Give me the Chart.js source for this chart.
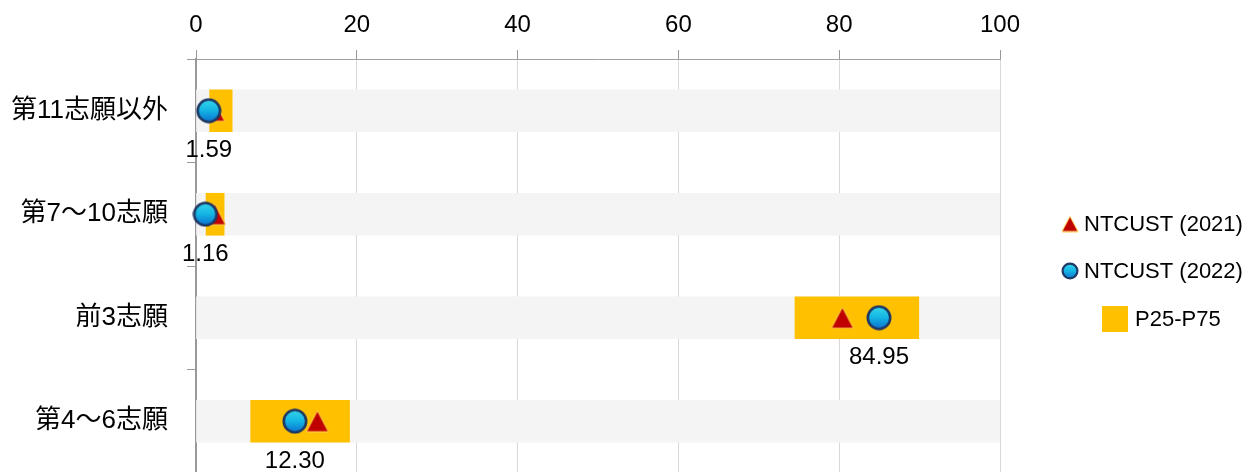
<!DOCTYPE html>
<html><head><meta charset="utf-8">
<script src="https://cdn.jsdelivr.net/npm/chart.js@4.4.0/dist/chart.umd.min.js"></script>
<style>
html,body{margin:0;padding:0;background:#fff;overflow:hidden}
#wrap{width:1249px;height:486px;position:relative}
</style>
</head><body><div id="wrap"><canvas id="c"></canvas></div>
<script>
// ---- data ----
const categories = ['第11志願以外', '第7～10志願', '前3志願', '第4～6志願'];
const xTicks = [0, 20, 40, 60, 80, 100];
const p25 = [1.7, 1.25, 74.5, 6.8];
const p75 = [4.5, 3.5, 89.9, 19.1];
const ntcust2021 = [2.2, 2.3, 80.4, 15.1];
const ntcust2022 = [1.59, 1.16, 84.95, 12.30];
const bandRange = [0, 100];
const seriesLabels = ['NTCUST (2021)', 'NTCUST (2022)', 'P25-P75'];

// ---- marker images ----
function makeCircle(d, lw) {
  const c = document.createElement('canvas'); c.width = d; c.height = d;
  const x = c.getContext('2d'); const r = d / 2 - lw / 2 - 0.5;
  const g = x.createLinearGradient(0, 0, 0, d);
  g.addColorStop(0, '#3ADCEC'); g.addColorStop(0.5, '#14B4E4'); g.addColorStop(1, '#0A66CC');
  x.beginPath(); x.arc(d / 2, d / 2, r, 0, Math.PI * 2);
  x.fillStyle = g; x.fill(); x.lineWidth = lw; x.strokeStyle = '#1F3864'; x.stroke();
  return c;
}
function makeTri(w, h) {
  const c = document.createElement('canvas'); c.width = w + 2; c.height = h + 2;
  const x = c.getContext('2d');
  x.beginPath(); x.moveTo(1 + w / 2, 1); x.lineTo(1 + w, 1 + h); x.lineTo(1, 1 + h); x.closePath();
  x.fillStyle = '#C00000'; x.fill(); x.strokeStyle = '#FFD050'; x.lineWidth = 1; x.stroke();
  return c;
}
const circleImg = makeCircle(26, 2.6);
const triImg = makeTri(22, 21);
const circleLeg = makeCircle(18, 2.2);
const triLeg = makeTri(16, 15);

const latin = '"Liberation Sans", "Noto Sans CJK TC", sans-serif';

const valueLabels = {
  id: 'valueLabels',
  afterDatasetsDraw(chart) {
    const meta = chart.getDatasetMeta(0);
    const ctx = chart.ctx;
    ctx.save();
    ctx.font = '24px ' + latin;
    ctx.fillStyle = '#000';
    ctx.textAlign = 'center';
    ctx.textBaseline = 'middle';
    meta.data.forEach((pt, i) => {
      ctx.fillText(ntcust2022[i].toFixed(2), pt.x, pt.y + 40);
    });
    ctx.restore();
  }
};

const customLegend = {
  id: 'customLegend',
  afterDraw(chart) {
    const ctx = chart.ctx;
    ctx.save();
    ctx.font = '22px ' + latin;
    ctx.fillStyle = '#000';
    ctx.textBaseline = 'middle';
    ctx.textAlign = 'left';
    ctx.drawImage(triLeg, 1070 - triLeg.width / 2, 224 - triLeg.height / 2);
    ctx.fillText(seriesLabels[0], 1084, 225);
    ctx.drawImage(circleLeg, 1070 - circleLeg.width / 2, 271 - circleLeg.height / 2);
    ctx.fillText(seriesLabels[1], 1084, 272);
    ctx.fillStyle = '#FFC000';
    ctx.fillRect(1102, 306, 26, 26);
    ctx.fillStyle = '#000';
    ctx.fillText(seriesLabels[2], 1135, 320);
    ctx.restore();
  }
};

new Chart(document.getElementById('c'), {
  data: {
    labels: categories,
    datasets: [
      { type: 'line', label: seriesLabels[1], data: ntcust2022, indexAxis: 'y', showLine: false,
        pointStyle: circleImg, pointRadius: 12, pointHoverRadius: 12, clip: false, order: 0 },
      { type: 'line', label: seriesLabels[0], data: ntcust2021, indexAxis: 'y', showLine: false,
        pointStyle: triImg, pointRadius: 12, pointHoverRadius: 12, clip: false, order: 1 },
      { type: 'bar', label: seriesLabels[2], data: categories.map((_, i) => [p25[i], p75[i]]), indexAxis: 'y',
        backgroundColor: '#FFC000', barThickness: 42, grouped: false, order: 2 },
      { type: 'bar', label: 'band', data: categories.map(() => bandRange.slice()), indexAxis: 'y',
        backgroundColor: '#F4F4F4', barThickness: 42, grouped: false, order: 3 }
    ]
  },
  options: {
    indexAxis: 'y',
    responsive: true,
    maintainAspectRatio: false,
    animation: false,
    events: [],
    layout: { padding: { left: 0, top: 0, right: 249, bottom: 0 } },
    plugins: { legend: { display: false }, tooltip: { enabled: false } },
    scales: {
      x: {
        type: 'linear', position: 'top', min: 0, max: 100,
        afterBuildTicks(scale) { scale.ticks = xTicks.map(v => ({ value: v })); },
        afterFit(scale) { scale.height = 59; scale.paddingLeft = 0; scale.paddingRight = 0; },
        ticks: { font: { size: 24, family: latin }, color: '#000', padding: 10 },
        grid: { color: '#D9D9D9', tickColor: '#999', tickLength: 9, lineWidth: 1 },
        border: { display: true, color: '#A0A0A0', width: 1 }
      },
      y: {
        type: 'category',
        afterFit(scale) { scale.width = 196; scale.paddingTop = 0; scale.paddingBottom = 0; },
        ticks: { font: { size: 26, family: latin }, color: '#000', padding: 19 },
        grid: { drawOnChartArea: false, offset: true, tickLength: 9, color: '#999' },
        border: { display: true, color: '#999', width: 2 }
      }
    }
  },
  plugins: [valueLabels, customLegend]
});
</script>
</body></html>
